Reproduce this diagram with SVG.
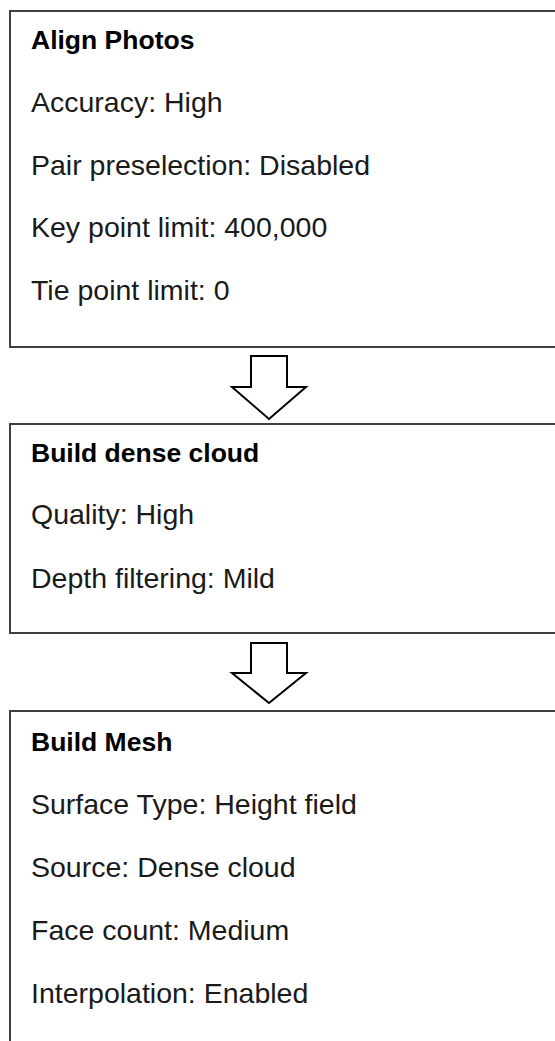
<svg xmlns="http://www.w3.org/2000/svg" width="555" height="1041" viewBox="0 0 555 1041">
<style>
.box{fill:#ffffff;stroke:#404040;stroke-width:2}
.arrow{fill:#ffffff;stroke:#000000;stroke-width:2;stroke-linejoin:miter}
.t{font-family:"Liberation Sans",Arial,sans-serif;font-size:28.5px;fill:#1a1a1a}
.h{font-weight:bold;font-size:26.5px;fill:#000000}
</style>
<rect x="0" y="0" width="555" height="1041" fill="#ffffff"/>
<g id="connectors">
<polygon class="arrow" points="251,356 287,356 287,387 306,387 269,419 232,387 251,387"/>
<polygon class="arrow" points="251,643 287,643 287,673 306,673 269,703 232,673 251,673"/>
</g>
<g id="align-photos">
<rect class="box" x="10" y="11" width="560" height="336"/>
<text class="t h" x="31" y="49">Align Photos</text>
<text class="t" x="31" y="112">Accuracy: High</text>
<text class="t" x="31" y="175">Pair preselection: Disabled</text>
<text class="t" x="31" y="237">Key point limit: 400,000</text>
<text class="t" x="31" y="300">Tie point limit: 0</text>
</g>
<g id="build-dense-cloud">
<rect class="box" x="10" y="424" width="560" height="209"/>
<text class="t h" x="31" y="462">Build dense cloud</text>
<text class="t" x="31" y="524">Quality: High</text>
<text class="t" x="31" y="588">Depth filtering: Mild</text>
</g>
<g id="build-mesh">
<rect class="box" x="10" y="711" width="560" height="360"/>
<text class="t h" x="31" y="751">Build Mesh</text>
<text class="t" x="31" y="814">Surface Type: Height field</text>
<text class="t" x="31" y="877">Source: Dense cloud</text>
<text class="t" x="31" y="940">Face count: Medium</text>
<text class="t" x="31" y="1003">Interpolation: Enabled</text>
</g>
</svg>
